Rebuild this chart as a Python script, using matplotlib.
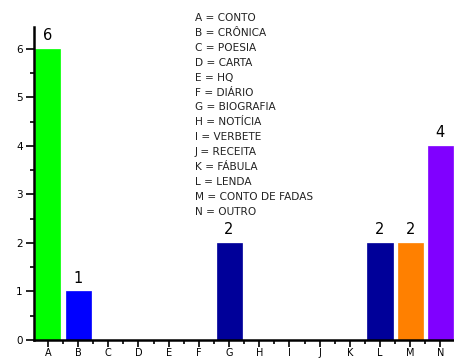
import matplotlib.pyplot as plt
from matplotlib.ticker import MultipleLocator

CATEGORIES = ["A", "B", "C", "D", "E", "F", "G", "H", "I", "J", "K", "L", "M", "N"]
VALUES = [6, 1, 0, 0, 0, 0, 2, 0, 0, 0, 0, 2, 2, 4]
COLORS = ["#00ff00", "#0000ff", "white", "white", "white", "white", "#000099",
          "white", "white", "white", "white", "#000099", "#ff8000", "#8000ff"]
KEY = ["CONTO", "CRÔNICA", "POESIA", "CARTA", "HQ", "DIÁRIO", "BIOGRAFIA",
       "NOTÍCIA", "VERBETE", "RECEITA", "FÁBULA", "LENDA", "CONTO DE FADAS", "OUTRO"]

fig = plt.figure(figsize=(4.54, 3.58), dpi=100)
ax = fig.add_axes([0.0749, 0.0503, 0.9251, 0.8743])

x = range(len(CATEGORIES))
for i, v in enumerate(VALUES):
    if v > 0:
        ax.bar(i, v, width=0.83, color=COLORS[i], edgecolor=COLORS[i], linewidth=0.5, zorder=2)
        ax.text(i, v + 0.12, str(v), ha="center", va="bottom", fontsize=10.5)

ax.set_xlim(-0.46, 13.45)
ax.set_ylim(0, 6.45)
ax.set_xticks(list(x))
ax.set_xticklabels(CATEGORIES, fontsize=7)
ax.xaxis.set_minor_locator(MultipleLocator(0.5))
ax.yaxis.set_major_locator(MultipleLocator(1))
ax.yaxis.set_minor_locator(MultipleLocator(0.5))
ax.tick_params(axis="y", which="major", direction="out", length=6, width=1.2, labelsize=7.5, pad=2)
ax.tick_params(axis="x", which="major", direction="out", length=5, width=1.2, pad=1)
ax.tick_params(axis="both", which="minor", direction="out", length=3, width=1.2)

for s in ["top", "right"]:
    ax.spines[s].set_visible(False)
for s in ["left", "bottom"]:
    ax.spines[s].set_linewidth(1.8)

for k, (c, name) in enumerate(zip(CATEGORIES, KEY)):
    fig.text(195 / 454, 1 - (18 + 14.9 * k) / 358, f"{c} = {name}", fontsize=7.6,
             ha="left", va="center", color="#222222")

fig.savefig("out.png", dpi=100)
